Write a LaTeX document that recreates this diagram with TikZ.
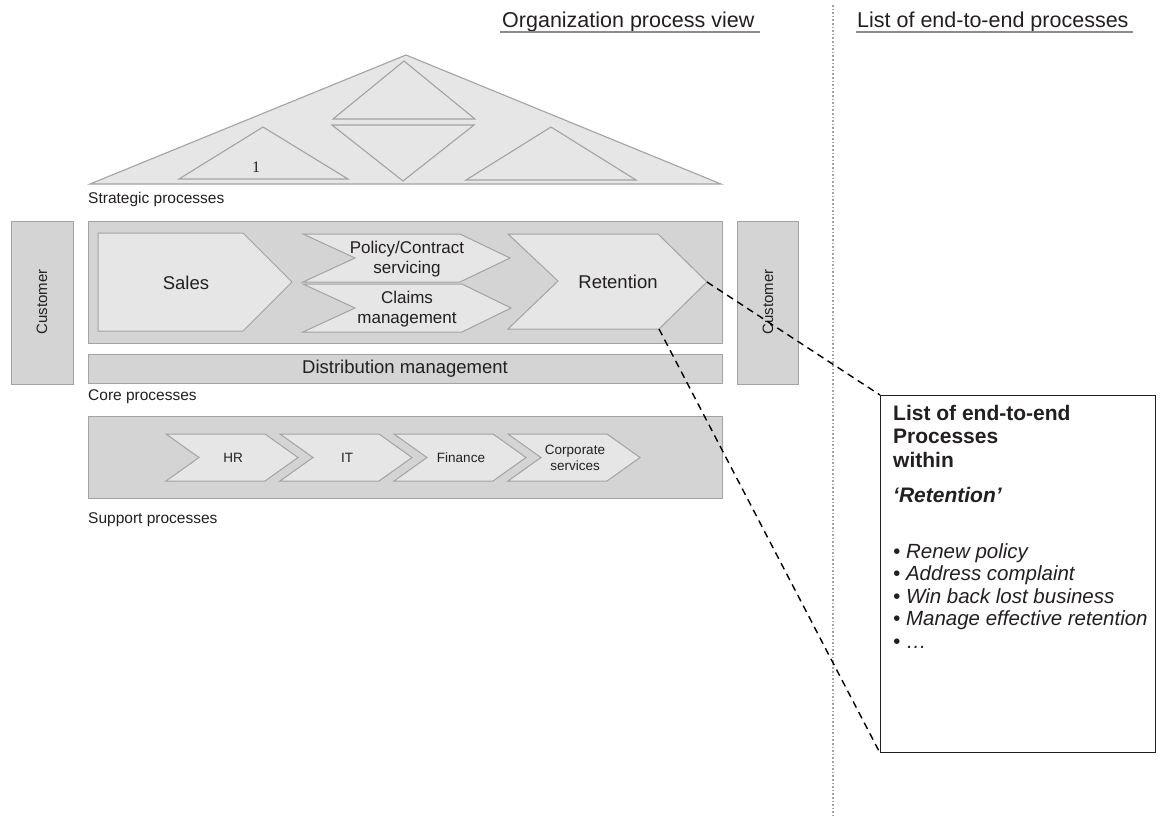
\documentclass[tikz,border=0pt]{standalone}
\usepackage{fontspec}
\setmainfont{Liberation Sans}
\newfontfamily\numfont{Liberation Serif}
\definecolor{edgegray}{HTML}{A3A3A3}
\definecolor{boxgray}{HTML}{D4D4D4}
\definecolor{chevgray}{HTML}{E6E6E7}
\definecolor{inkgray}{HTML}{231F20}
\definecolor{rulegray}{HTML}{8C8C8C}

\begin{document}
\begin{tikzpicture}[x=1pt, y=-1pt, line join=miter,
  box/.style={draw=edgegray, fill=boxgray, line width=1pt},
  chev/.style={draw=edgegray, fill=chevgray, line width=1pt},
  tri/.style={draw=edgegray, fill=chevgray, line width=1.1pt},
  big/.style={text=inkgray, align=center, inner sep=0, font=\fontsize{18.5}{20.5}\selectfont},
  mid/.style={text=inkgray, align=center, inner sep=0, font=\fontsize{17}{20}\selectfont},
  small/.style={text=inkgray, align=center, inner sep=0, font=\fontsize{13.5}{16}\selectfont},
  caption/.style={text=inkgray, anchor=base west, inner sep=0, font=\fontsize{15.5}{18}\selectfont},
  title/.style={text=inkgray, anchor=base west, inner sep=0, font=\fontsize{21.5}{24}\selectfont},
  head/.style={text=inkgray, anchor=base west, inner sep=0, font=\fontsize{21}{24}\selectfont\bfseries},
  item/.style={text=inkgray, anchor=base west, inner sep=0, font=\fontsize{20.5}{24}\selectfont\itshape},
  zoomline/.style={dashed, line width=1.4pt, dash pattern=on 7pt off 5pt}]
  \useasboundingbox (0,0) rectangle (1167,820);

  \node[title] (orgview) at (502,27) {Organization process view};
  \node[title] (e2eview) at (857,27) {List of end-to-end processes};
  \draw[rulegray, line width=1.6pt] (500,32) -- (760,32);
  \draw[rulegray, line width=1.6pt] (856,32) -- (1133,32);
  \draw[edgegray, line width=1.6pt, dotted] (833,5) -- (833,816);

  \draw[tri] (90,184) -- (406,55) -- (721,184) -- cycle;
  \draw[tri] (333,119) -- (404,61) -- (475,119) -- cycle;
  \draw[tri] (332,125) -- (474,125) -- (403,181) -- cycle;
  \draw[tri] (179,179) -- (263,127) -- (348,179) -- cycle;
  \draw[tri] (466,180) -- (551,127) -- (636,180) -- cycle;
  \node[text=inkgray, inner sep=0, font=\numfont\fontsize{16}{18}\selectfont] (one) at (256,167) {1};
  \node[caption] (strategic) at (88,203) {Strategic processes};

  \draw[box] (11,221) rectangle (73,384);
  \node[mid, rotate=90, font=\fontsize{15}{18}\selectfont] (custl) at (42,302) {Customer};
  \draw[box] (88,221) rectangle (722,343);
  \draw[box] (737,221) rectangle (798,384);

  \draw[chev] (98,233) -- (243,233) -- (292,282) -- (243,331) -- (98,331) -- cycle;
  \node[big] (sales) at (186,283) {Sales};
  \draw[chev] (303,234) -- (460,234) -- (510,258) -- (460,282) -- (303,282) -- (355,258) -- cycle;
  \node[mid] (policy) at (407,259) {Policy/Contract\\servicing};
  \draw[chev] (303,284) -- (462,284) -- (511,308) -- (462,332) -- (303,332) -- (355,308) -- cycle;
  \node[mid] (claims) at (407,309) {Claims\\management};
  \coordinate (rettip) at (707,282);
  \coordinate (retcorner) at (659,329);
  \draw[chev] (508,234) -- (658,234) -- (rettip) -- (retcorner) -- (508,329) -- (558,281) -- cycle;
  \node[big] (retention) at (618,282) {Retention};
  \node[mid, rotate=90, font=\fontsize{15}{18}\selectfont] (custr) at (768,302) {Customer};

  \draw[box] (88,354) rectangle (722,383);
  \node[big] (distribution) at (405,369) {Distribution management};
  \node[caption] (core) at (88,400) {Core processes};

  \draw[box] (88,416) rectangle (722,498);
  \foreach \n/\x/\t in {hr/166/HR, it/280/IT, fin/394/Finance, corp/508/{Corporate\\services}} {
    \draw[chev] (\x,434) -- ++(99,0) -- ++(33,23.5) -- ++(-33,23.5) -- ++(-99,0) -- ++(33,-23.5) -- cycle;
    \node[small] (\n) at (\x+67,457.5) {\t};
  }
  \node[caption] (support) at (88,523) {Support processes};

  \node[draw=inkgray, line width=1pt, anchor=north west, minimum width=275, minimum height=357, inner sep=0] (list) at (880,395) {};
  \foreach \t [count=\i] in {List of end-to-end, Processes, within}
    \node[head] (h\i) at (893,396.5+23.5*\i) {\t};
  \node[head, font=\fontsize{21}{24}\selectfont\bfseries\itshape] (hret) at (893,502) {‘Retention’};
  \foreach \t [count=\i] in {Renew policy, Address complaint, Win back lost business, Manage effective retention, \ldots}
    \node[item] (b\i) at (893,535.5+22.5*\i) {• \t};

  \draw[zoomline] (rettip) -- (list.north west);
  \draw[zoomline] (retcorner) -- (list.south west);
\end{tikzpicture}
\end{document}
